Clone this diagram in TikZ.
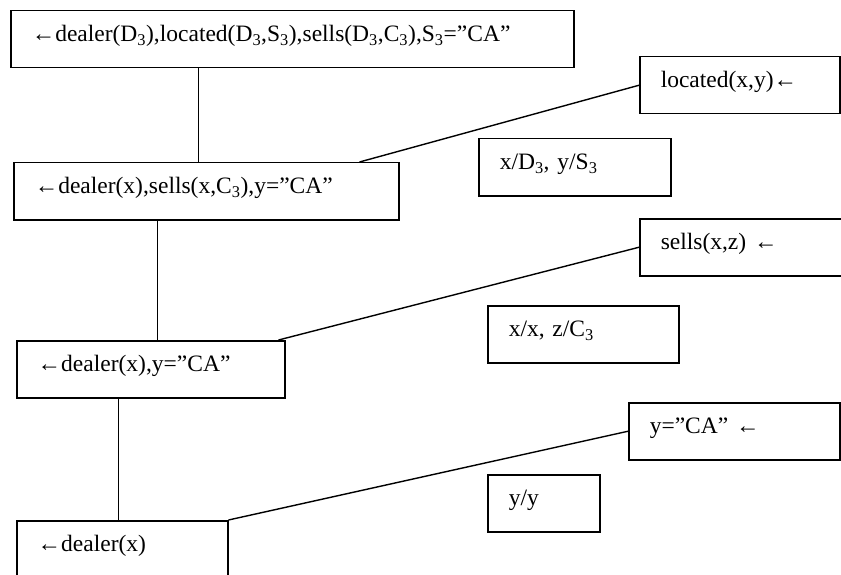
\documentclass[tikz,border=0pt]{standalone}
\usepackage{fontspec}
\setmainfont{Liberation Serif}
\usepackage{tikz}
\usetikzlibrary{calc}

\begin{document}
\begin{tikzpicture}[
      x=1pt,y=-1pt,
      goal/.style ={draw,line width=1.5pt,anchor=north west,inner xsep=21pt,
                    minimum height=57pt,text height=17pt,text depth=12pt,
                    align=left,text width=#1,
                    font=\fontsize{23.5pt}{28pt}\selectfont},
      ln/.style   ={line width=1.4pt}]
      \useasboundingbox[fill=white] (0,0) rectangle (841,575);
      % goals, left column
      \node[goal=521pt] (top) at (10,10) {←dealer(D\textsubscript{3}),located(D\textsubscript{3},S\textsubscript{3}),sells(D\textsubscript{3},C\textsubscript{3}),S\textsubscript{3}=”CA”};
      \node[goal=343pt] (g1)  at (13,162){←dealer(x),sells(x,C\textsubscript{3}),y=”CA”};
      \node[goal=226pt] (g2)  at (16,340){←dealer(x),y=”CA”};
      \node[goal=169pt] (g3)  at (16,520){←dealer(x)};
      % clauses, right column
      \node[goal=158pt] (loc)   at (639,56) {located(x,y)←};
      \node[goal=161pt] (sells) at (639,218){sells(x,z) ←};
      \node[goal=169pt] (yca)   at (628,402){y=”CA” ←};
      % substitutions
      \node[goal=150pt] (subA) at (478,138){x/D\textsubscript{3}, y/S\textsubscript{3}};
      \node[goal=149pt] (subB) at (487,305){x/x, z/C\textsubscript{3}};
      \node[goal=70pt]  (subC) at (487,474){y/y};
      \foreach \a/\b/\s in {top/g1/-8pt,g1/g2/7pt,g2/g3/-4pt}
        \draw[ln] ([xshift=\s]\b.north) -- ([xshift=\s]\b.north |- \a.south);
      \foreach \a/\b/\s in {loc/g1/40pt,sells/g2/7pt,yca/g3/0pt}
        \draw[ln] (\a.west) -- ([xshift=-\s]\b.north east);
    \end{tikzpicture}
\end{document}
